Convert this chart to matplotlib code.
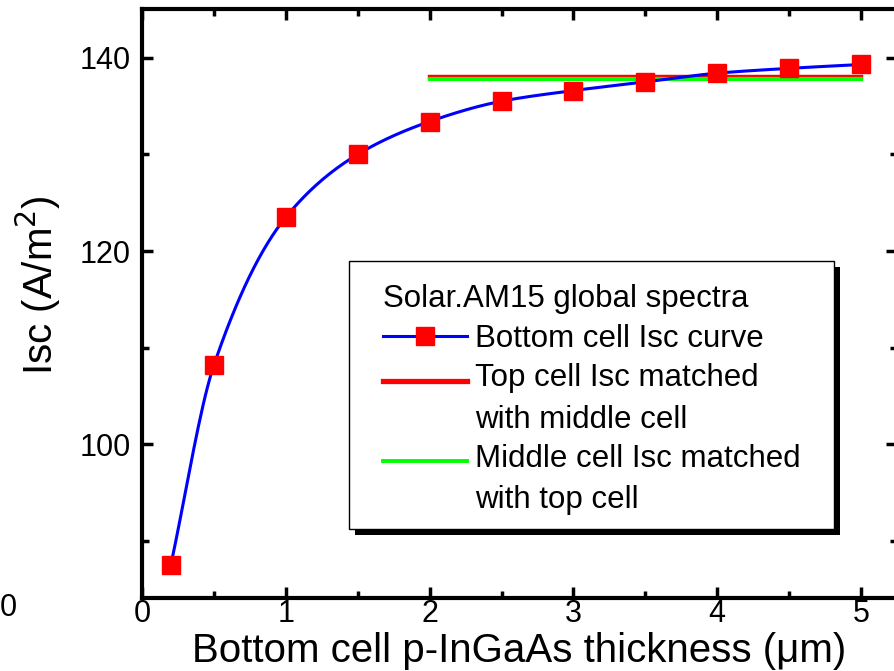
import numpy as np
import matplotlib.pyplot as plt
from matplotlib.patches import Rectangle
from matplotlib.ticker import MultipleLocator
from matplotlib.legend_handler import HandlerLine2D

plt.rcParams['font.family'] = ['Liberation Sans', 'DejaVu Sans']

# bottom cell short-circuit current vs p-InGaAs thickness
thickness = [0.2, 0.5, 1.0, 1.5, 2.0, 2.5, 3.0, 3.5, 4.0, 4.5, 5.0]
isc_bottom = [87.5, 108.2, 123.5, 130.0, 133.4, 135.5, 136.6, 137.5, 138.4, 138.9, 139.3]

# matched currents of the top/middle cells
match_x = [2.0, 5.0]
isc_top = [138.0, 138.0]
isc_middle = [137.8, 137.8]


def pchip(x, y, xs):
    # monotone cubic hermite (Fritsch-Carlson) for a smooth line through the points
    x = np.asarray(x, float)
    y = np.asarray(y, float)
    h = np.diff(x)
    d = np.diff(y) / h
    m = np.zeros_like(y)
    for k in range(1, len(x) - 1):
        if d[k - 1] * d[k] > 0:
            w1 = 2 * h[k] + h[k - 1]
            w2 = h[k] + 2 * h[k - 1]
            m[k] = (w1 + w2) / (w1 / d[k - 1] + w2 / d[k])
    m[0] = d[0]
    m[-1] = d[-1]
    idx = np.clip(np.searchsorted(x, xs) - 1, 0, len(x) - 2)
    t = (xs - x[idx]) / h[idx]
    h00 = 2 * t**3 - 3 * t**2 + 1
    h10 = t**3 - 2 * t**2 + t
    h01 = -2 * t**3 + 3 * t**2
    h11 = t**3 - t**2
    return h00 * y[idx] + h10 * h[idx] * m[idx] + h01 * y[idx + 1] + h11 * h[idx] * m[idx + 1]


class FirstLineHandler(HandlerLine2D):
    # puts the legend line next to the first line of a two-line label
    def __init__(self, shift, **kw):
        super().__init__(**kw)
        self.shift = shift

    def create_artists(self, legend, orig_handle, xdescent, ydescent, width,
                       height, fontsize, trans):
        arts = super().create_artists(legend, orig_handle, xdescent, ydescent,
                                      width, height, fontsize, trans)
        for a in arts:
            a.set_ydata(np.asarray(a.get_ydata()) + self.shift)
        return arts


W, H = 895, 671
fig = plt.figure(figsize=(W / 100, H / 100), dpi=100)
ax = fig.add_axes([0.1587, 0.1088, 0.8435, 0.8772])

xs = np.linspace(thickness[0], thickness[-1], 300)
ax.plot(xs, pchip(thickness, isc_bottom, xs), color='#0000ff', lw=2.2, zorder=3)
ax.plot(thickness, isc_bottom, ls='none', marker='s', ms=13, color='#ff0000',
        mec='#ff0000', zorder=4)
ax.plot(match_x, isc_top, color='#ff0000', lw=3.2, zorder=2)
ax.plot(match_x, isc_middle, color='#00ff00', lw=3.0, zorder=2)

# legend handles
h1, = ax.plot([], [], color='#0000ff', lw=2.2, marker='s', ms=13,
              mfc='#ff0000', mec='#ff0000')
h2, = ax.plot([], [], color='#ff0000', lw=3.8)
h3, = ax.plot([], [], color='#00ff00', lw=2.8)

ax.set_xlim(0, 5.25)
ax.set_ylim(84.1, 145)
ax.xaxis.set_major_locator(MultipleLocator(1))
ax.xaxis.set_minor_locator(MultipleLocator(0.5))
ax.yaxis.set_major_locator(MultipleLocator(20))
ax.yaxis.set_minor_locator(MultipleLocator(10))
ax.tick_params(which='both', direction='in', top=True, right=True, width=2.5,
               labelsize=22)
ax.tick_params(axis='x', which='both', pad=1)
ax.tick_params(axis='y', which='both', pad=8)
ax.tick_params(which='major', length=8)
ax.tick_params(which='minor', length=5)
for s in ax.spines.values():
    s.set_linewidth(3)

ax.set_xlabel('Bottom cell p-InGaAs thickness (\u03bcm)', fontsize=29, labelpad=2)
ax.set_ylabel('Isc (A/m$^2$)', fontsize=29)
ax.yaxis.set_label_coords(-0.105, 0.531)

leg_fs = 22.5
line_gap = 1.5
shift = 0.5 * line_gap * 0.8 * leg_fs
leg = ax.legend([h1, h2, h3],
                ['Bottom cell Isc curve', 'Top cell Isc matched\nwith middle cell',
                 'Middle cell Isc matched\nwith top cell'],
                handler_map={h2: FirstLineHandler(shift), h3: FirstLineHandler(shift)},
                title='Solar.AM15 global spectra', title_fontsize=leg_fs, fontsize=leg_fs,
                loc='upper left', bbox_to_anchor=(0.319, 0.533), borderaxespad=0,
                borderpad=0, numpoints=1, handlelength=2.7, handletextpad=0.26,
                labelspacing=0.3, frameon=False)
for t in leg.get_texts():
    t.set_linespacing(line_gap)
leg._legend_box.align = 'left'
leg.set_zorder(6)

# white box with a solid black drop shadow around the legend contents
fig.canvas.draw()
bb = leg.get_window_extent()
top_pad, bot_pad = 23, 14
x0, y0 = bb.x0 - 34, bb.y0 - bot_pad
bw, bh = bb.width + 34 + 33, bb.height + bot_pad + top_pad
ax.add_patch(Rectangle(((x0 + 6) / W, (y0 - 6) / H), bw / W, bh / H,
                       transform=fig.transFigure, facecolor='black',
                       edgecolor='none', zorder=5, clip_on=False))
ax.add_patch(Rectangle((x0 / W, y0 / H), bw / W, bh / H,
                       transform=fig.transFigure, facecolor='white',
                       edgecolor='black', lw=1.0, zorder=5.5, clip_on=False))

fig.text(0.009, 1 - 608 / H, '0', fontsize=22, ha='center', va='center')

fig.savefig('out.png', dpi=100)
